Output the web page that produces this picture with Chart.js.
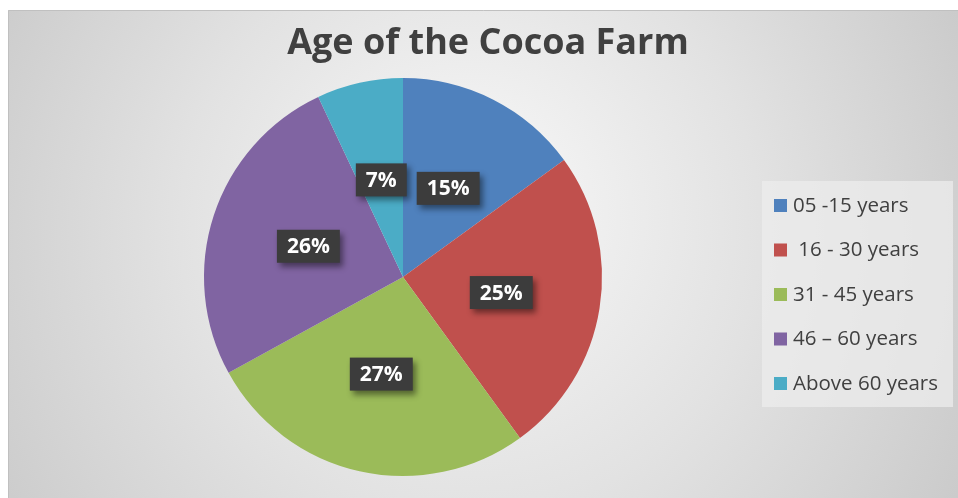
<!DOCTYPE html>
<html lang="en">
<head>
  <meta charset="UTF-8">
  <title>Age of the Cocoa Farm</title>
  <script src="https://cdn.jsdelivr.net/npm/chart.js"></script>
  <style>
    html, body {
      margin: 0;
      padding: 0;
      background: #ffffff;
    }

    .wrap {
      width: 958px;
      height: 498px;
      position: relative;
    }
  </style>
</head>
<body>
  <div class="wrap">
    <canvas id="farmAgeChart" width="958" height="498"></canvas>
  </div>

  <script>
    const ageGroups = ["05 -15 years", " 16 - 30 years", "31 - 45 years", "46 \u2013 60 years", "Above 60 years"];
    const sharePercent = [15, 25, 27, 26, 7];
    const sliceColors = ["#4F81BD", "#C0504D", "#9BBB59", "#8064A2", "#4BACC6"];
    const chartTitle = 'Age of the Cocoa Farm';

    const FONT = "'Open Sans', 'Noto Sans', sans-serif";

    // grey gradient panel behind everything, plus the title
    const panelBackground = {
      id: 'panelBackground',
      beforeDraw(chart) {
        const ctx = chart.ctx;
        const w = chart.width, h = chart.height;
        ctx.save();
        ctx.fillStyle = '#ffffff';
        ctx.fillRect(0, 0, w, h);
        const g = ctx.createRadialGradient(470, 200, 20, 470, 260, 620);
        g.addColorStop(0, '#f7f7f7');
        g.addColorStop(0.45, '#e2e2e2');
        g.addColorStop(1, '#c4c4c4');
        ctx.fillStyle = g;
        ctx.fillRect(8, 10, w - 8, h - 10);
        ctx.strokeStyle = '#c0c0c0';
        ctx.lineWidth = 1;
        ctx.beginPath();
        ctx.moveTo(8.5, h);
        ctx.lineTo(8.5, 10.5);
        ctx.lineTo(w, 10.5);
        ctx.stroke();

        ctx.font = "bold 36px " + FONT;
        ctx.fillStyle = '#404040';
        ctx.textAlign = 'center';
        ctx.textBaseline = 'middle';
        ctx.fillText(chartTitle, 488, 44);
        ctx.restore();
      }
    };

    // dark boxes with the percentage inside each slice
    const sliceLabels = {
      id: 'sliceLabels',
      afterDatasetsDraw(chart) {
        const ctx = chart.ctx;
        const meta = chart.getDatasetMeta(0);
        ctx.save();
        ctx.font = "bold 21px " + FONT;
        ctx.textAlign = 'center';
        ctx.textBaseline = 'middle';
        meta.data.forEach((arc, i) => {
          const mid = (arc.startAngle + arc.endAngle) / 2;
          const r = arc.outerRadius * 0.5;
          const x = arc.x + Math.cos(mid) * r;
          const y = arc.y + Math.sin(mid) * r;
          const text = sharePercent[i] + '%';
          const bw = ctx.measureText(text).width + 20;
          const bh = 33;
          ctx.save();
          ctx.shadowColor = 'rgba(0,0,0,0.45)';
          ctx.shadowBlur = 6;
          ctx.shadowOffsetX = 3;
          ctx.shadowOffsetY = 4;
          ctx.fillStyle = '#3c3c3c';
          ctx.fillRect(x - bw / 2, y - bh / 2, bw, bh);
          ctx.restore();
          ctx.fillStyle = '#ffffff';
          ctx.fillText(text, x, y + 1);
        });
        ctx.restore();
      }
    };

    // legend panel on the right
    const sideLegend = {
      id: 'sideLegend',
      afterDraw(chart) {
        const ctx = chart.ctx;
        const labels = chart.data.labels;
        const colors = chart.data.datasets[0].backgroundColor;
        ctx.save();
        ctx.fillStyle = 'rgba(236,236,236,0.75)';
        ctx.fillRect(762, 181, 191, 226);
        ctx.font = "20.5px " + FONT;
        ctx.textBaseline = 'middle';
        labels.forEach((lab, i) => {
          const y = 205 + i * 44.5;
          ctx.fillStyle = colors[i];
          ctx.fillRect(774, y - 6, 13, 13);
          ctx.fillStyle = '#404040';
          ctx.fillText(lab, 793, y + 1);
        });
        ctx.restore();
      }
    };

    const ctx = document.getElementById('farmAgeChart').getContext('2d');
    new Chart(ctx, {
      type: 'pie',
      data: {
        labels: ageGroups,
        datasets: [{
          data: sharePercent,
          backgroundColor: sliceColors,
          borderWidth: 0
        }]
      },
      options: {
        responsive: false,
        animation: false,
        layout: {
          padding: { left: 203, right: 355, top: 78, bottom: 22 }
        },
        plugins: {
          legend: { display: false },
          tooltip: { enabled: false },
          title: { display: false }
        }
      },
      plugins: [panelBackground, sliceLabels, sideLegend]
    });
  </script>
</body>
</html>
